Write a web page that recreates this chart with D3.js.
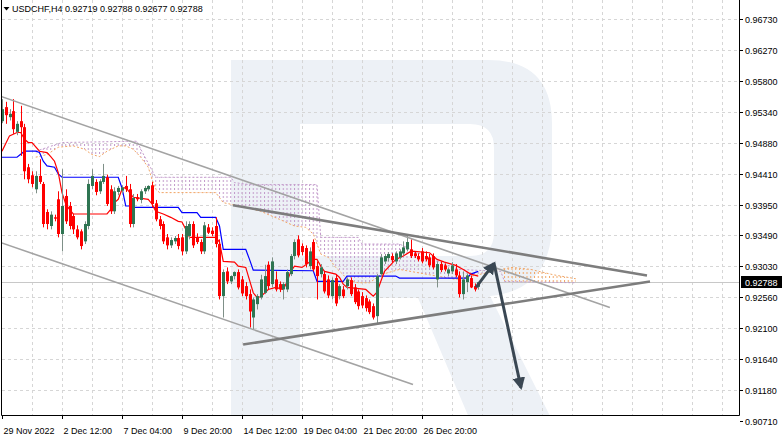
<!DOCTYPE html>
<html><head><meta charset="utf-8">
<script src="https://cdn.jsdelivr.net/npm/d3@7"></script>
<style>
body{margin:0;background:#fff;}
svg{display:block;}
text{font-family:"Liberation Sans",Arial,sans-serif;font-size:9px;fill:#000;}
</style>
</head><body>
<svg id="chart" width="782" height="443"></svg>
<script>
// ---------------- data ----------------
const symbol = "USDCHF,H4";
const headerValues = [0.92719, 0.92788, 0.92677, 0.92788];
const lastPrice = 0.92788;

const opens = [0.9520,0.9541,0.9526,0.9535,0.9504,0.9520,0.9511,0.9451,0.9439,0.9418,
0.9438,0.9426,0.9384,0.9363,0.9376,0.9403,0.9351,0.9408,0.9393,0.9378,
0.9358,0.9355,0.9340,0.9363,0.9423,0.9429,0.9415,0.9429,0.9436,0.9418,
0.9385,0.9414,0.9416,0.9423,0.9418,0.9366,0.9406,0.9402,0.9415,0.9418,
0.9424,0.9397,0.9373,0.9366,0.9346,0.9334,0.9340,0.9345,0.9346,0.9325,
0.9348,0.9366,0.9346,0.9339,0.9325,0.9361,0.9356,0.9363,0.9336,0.9258,
0.9295,0.9280,0.9288,0.9294,0.9283,0.9273,0.9261,0.9226,0.9246,0.9256,
0.9263,0.9305,0.9276,0.9283,0.9276,0.9268,0.9268,0.9291,0.9318,0.9343,
0.9333,0.9330,0.9303,0.9339,0.9303,0.9291,0.9291,0.9283,0.9258,0.9285,
0.9258,0.9268,0.9273,0.9282,0.9271,0.9265,0.9258,0.9255,0.9250,0.9243,
0.9228,0.9291,0.9310,0.9315,0.9318,0.9310,0.9316,0.9322,0.9328,0.9328,
0.9322,0.9318,0.9325,0.9318,0.9316,0.9318,0.9283,0.9306,0.9304,0.9292,
0.9295,0.9298,0.9289,0.9261,0.9279,0.9285,0.9273,0.92719];
const highs = [0.9553,0.9549,0.9538,0.9553,0.9520,0.9543,0.9516,0.9456,0.9445,0.9445,
0.9463,0.9429,0.9388,0.9385,0.9380,0.9415,0.9448,0.9418,0.9399,0.9381,
0.9364,0.9358,0.9370,0.9433,0.9448,0.9433,0.9433,0.9456,0.9440,0.9424,
0.9421,0.9423,0.9424,0.9438,0.9426,0.9411,0.9411,0.9418,0.9423,0.9424,
0.9429,0.9402,0.9378,0.9370,0.9351,0.9346,0.9348,0.9351,0.9351,0.9370,
0.9370,0.9370,0.9352,0.9343,0.9369,0.9366,0.9361,0.9376,0.9343,0.9298,
0.9301,0.9289,0.9295,0.9298,0.9288,0.9279,0.9268,0.9256,0.9261,0.9290,
0.9305,0.9310,0.9316,0.9295,0.9280,0.9279,0.9298,0.9321,0.9343,0.9349,
0.9337,0.9334,0.9331,0.9343,0.9310,0.9306,0.9295,0.9289,0.9286,0.9291,
0.9276,0.9273,0.9286,0.9286,0.9276,0.9268,0.9264,0.9259,0.9253,0.9247,
0.9291,0.9321,0.9321,0.9324,0.9322,0.9325,0.9328,0.9340,0.9351,0.9343,
0.9325,0.9322,0.9330,0.9325,0.9321,0.9322,0.9310,0.9310,0.9307,0.9301,
0.9309,0.9306,0.9295,0.9295,0.9292,0.9289,0.9277,0.92788];
const lows = [0.9517,0.9516,0.9521,0.9501,0.9499,0.9468,0.9433,0.9427,0.9421,0.9412,
0.9426,0.9361,0.9358,0.9358,0.9370,0.9346,0.9325,0.9366,0.9358,0.9351,
0.9343,0.9328,0.9336,0.9358,0.9418,0.9409,0.9411,0.9426,0.9393,0.9381,
0.9381,0.9409,0.9412,0.9414,0.9361,0.9361,0.9400,0.9397,0.9411,0.9415,
0.9391,0.9370,0.9358,0.9336,0.9328,0.9330,0.9336,0.9328,0.9319,0.9321,
0.9343,0.9330,0.9336,0.9321,0.9321,0.9351,0.9348,0.9331,0.9253,0.9226,
0.9276,0.9276,0.9283,0.9268,0.9258,0.9253,0.9211,0.9208,0.9238,0.9253,
0.9261,0.9268,0.9271,0.9265,0.9264,0.9253,0.9264,0.9288,0.9313,0.9316,
0.9319,0.9301,0.9298,0.9295,0.9253,0.9286,0.9262,0.9255,0.9253,0.9243,
0.9253,0.9255,0.9268,0.9258,0.9246,0.9238,0.9240,0.9235,0.9231,0.9223,
0.9216,0.9286,0.9306,0.9310,0.9308,0.9306,0.9313,0.9319,0.9325,0.9315,
0.9315,0.9310,0.9307,0.9310,0.9301,0.9298,0.9271,0.9294,0.9295,0.9288,
0.9291,0.9286,0.9256,0.9253,0.9264,0.9270,0.9265,0.92677];
const closes = [0.9538,0.9529,0.9531,0.9508,0.9516,0.9511,0.9445,0.9433,0.9426,0.9438,
0.9429,0.9366,0.9366,0.9380,0.9374,0.9351,0.9393,0.9370,0.9363,0.9358,
0.9346,0.9333,0.9366,0.9426,0.9438,0.9414,0.9430,0.9438,0.9396,0.9385,
0.9415,0.9420,0.9421,0.9418,0.9366,0.9405,0.9403,0.9415,0.9420,0.9423,
0.9396,0.9373,0.9363,0.9340,0.9334,0.9342,0.9345,0.9333,0.9325,0.9363,
0.9366,0.9334,0.9339,0.9325,0.9364,0.9353,0.9351,0.9336,0.9258,0.9294,
0.9280,0.9288,0.9294,0.9271,0.9262,0.9258,0.9235,0.9253,0.9258,0.9283,
0.9288,0.9273,0.9310,0.9268,0.9268,0.9276,0.9294,0.9318,0.9339,0.9319,
0.9324,0.9306,0.9325,0.9298,0.9288,0.9301,0.9265,0.9259,0.9282,0.9247,
0.9273,0.9258,0.9283,0.9261,0.9249,0.9243,0.9244,0.9240,0.9234,0.9226,
0.9288,0.9316,0.9318,0.9321,0.9312,0.9322,0.9325,0.9331,0.9339,0.9318,
0.9318,0.9313,0.9310,0.9313,0.9304,0.9301,0.9306,0.9297,0.9298,0.9298,
0.9304,0.9289,0.9261,0.9283,0.9289,0.9271,0.9268,0.92788];

// Ichimoku lines: [bar index, price]
const tenkan = [[0,0.9475],[2,0.9498],[4,0.9503],[5,0.9503],[6,0.9493],[7,0.9488],[8,0.9488],[10,0.9475],[12,0.9473],[13,0.9467],[14,0.9460],[15,0.9443],[16,0.9413],[17,0.9396],[18,0.9388],[19,0.9381],[28,0.9381],[29,0.9388],[30,0.9398],[31,0.9403],[32,0.9418],[33,0.9421],[35,0.9406],[39,0.9403],[40,0.9396],[41,0.9385],[43,0.9381],[45,0.9376],[47,0.9370],[48,0.9369],[49,0.9358],[50,0.9346],[57,0.9346],[58,0.9339],[59,0.9310],[62,0.9309],[63,0.9303],[65,0.9301],[67,0.9263],[68,0.9256],[69,0.9257],[71,0.9268],[73,0.9271],[75,0.9268],[76,0.9279],[77,0.9295],[78,0.9303],[80,0.9301],[83,0.9313],[84,0.9313],[85,0.9303],[86,0.9295],[89,0.9291],[90,0.9286],[91,0.9276],[92,0.9271],[97,0.9268],[99,0.9258],[100,0.9264],[101,0.9280],[102,0.9295],[103,0.9301],[105,0.9313],[107,0.9318],[109,0.9325],[110,0.9325],[114,0.9323],[116,0.9313],[118,0.9309],[121,0.9304],[123,0.9298],[125,0.9291],[127,0.9288]];
const kijun = [[0,0.9466],[4,0.9466],[6,0.9475],[9,0.9475],[10,0.9473],[11,0.9460],[12,0.9453],[14,0.9451],[15,0.9441],[16,0.9436],[31,0.9436],[32,0.9420],[33,0.9393],[34,0.9393],[35,0.9391],[47,0.9391],[48,0.9383],[52,0.9383],[53,0.9376],[57,0.9376],[58,0.9363],[59,0.9328],[65,0.9328],[66,0.9313],[67,0.9297],[83,0.9296],[84,0.9280],[91,0.9280],[92,0.9288],[105,0.9288],[106,0.9285],[124,0.9285],[125,0.9291],[127,0.9295]];
const spanA = [[9,0.9466],[12,0.9470],[15,0.9481],[19,0.9483],[22,0.9478],[24,0.9470],[26,0.9467],[28,0.9475],[31,0.9483],[33,0.9483],[35,0.9478],[37,0.9466],[39,0.9451],[40,0.9433],[41,0.9418],[42,0.9413],[57,0.9413],[59,0.9398],[64,0.9392],[69,0.9385],[74,0.9373],[78,0.9363],[81,0.9361],[83,0.9351],[85,0.9321],[87,0.9316],[89,0.9301],[91,0.9290],[92,0.9283],[95,0.9278],[98,0.9278],[101,0.9290],[106,0.9298],[114,0.9290],[121,0.9283],[127,0.9290],[133,0.9298],[136,0.9301],[141,0.9298],[147,0.9290],[153,0.9284]];
const spanB = [[9,0.9475],[16,0.9488],[36,0.9490],[37,0.9478],[41,0.9436],[61,0.9436],[62,0.9428],[66,0.9425],[84,0.9425],[85,0.9346],[95,0.9346],[96,0.9336],[106,0.9336],[112,0.9320],[118,0.9306],[122,0.9298],[133,0.9295],[134,0.9280],[153,0.9278]];

// axis labels
const priceTicks = [0.96730,0.96270,0.95800,0.95340,0.94880,0.94410,0.93950,0.93490,0.93030,0.92560,0.92100,0.91640,0.91180,0.90710];
const timeLabels = ["29 Nov 2022","2 Dec 12:00","7 Dec 04:00","9 Dec 20:00","14 Dec 12:00","19 Dec 04:00","21 Dec 20:00","26 Dec 20:00"];
const timeLabelBars = [0,16,32,48,64,80,96,112];

// drawn analysis objects: [bar index, price]
const channelLines = [
  [[-0.5,0.95575],[162.1,0.9241]],
  [[-0.5,0.93385],[109.6,0.91255]]
];
const triangleLines = [
  [[61.6,0.9394],[172.0,0.9289]],
  [[64.3,0.91855],[172.8,0.9280]]
];
const arrowUp = [[126.4,0.9271],[131.2,0.9307]];
const arrowDown = [[131.2,0.9307],[138.4,0.9121]];

// ---------------- drawing ----------------
const plot = {left:2, right:740, top:0, bottom:415};
const svg = d3.select("#chart");
const x = d3.scaleLinear().domain([0, (plot.right-plot.left)/3.75]).range([plot.left, plot.right]);
const y = d3.scaleLinear().domain([0.90710, 0.96730]).range([421, 19]);

const defs = svg.append("defs");
defs.append("clipPath").attr("id","plotClip").append("rect")
  .attr("x",plot.left).attr("y",plot.top).attr("width",plot.right-plot.left).attr("height",plot.bottom-plot.top);
function hatch(id,color){
  const p = defs.append("pattern").attr("id",id).attr("patternUnits","userSpaceOnUse")
    .attr("width",3.75).attr("height",4).attr("x",x(0)-0.5).attr("y",0);
  p.append("rect").attr("x",0).attr("y",0).attr("width",1).attr("height",2).attr("fill",color);
}
hatch("hatchPurple","#c39bcb");
hatch("hatchOrange","#f2a766");

const root = svg.append("g").attr("clip-path","url(#plotClip)");

// watermark logo
root.append("path")
  .attr("d","M231,60 H488 Q552,60 552,124 V222 Q552,290 490,296 L552,420 H470 L418,298 H300 V420 H231 Z M300,124 H470 Q494,124 494,148 V232 Q494,256 470,256 H300 Z")
  .attr("fill","#edf1f6").attr("fill-rule","evenodd");

// grid
const gridG = root.append("g").attr("stroke","#d6d6d6").attr("stroke-width",1).attr("stroke-dasharray","3,3");
priceTicks.forEach(p=>{
  const yy = Math.round(y(p))+0.5;
  gridG.append("line").attr("x1",plot.left).attr("x2",plot.right).attr("y1",yy).attr("y2",yy);
});
for(let b=8; x(b) < plot.right; b+=8){
  const xx = Math.round(x(b))+0.5;
  gridG.append("line").attr("x1",xx).attr("x2",xx).attr("y1",plot.top).attr("y2",plot.bottom);
}

// last price line
root.append("line").attr("x1",plot.left).attr("x2",plot.right)
  .attr("y1",Math.round(y(lastPrice))+0.5).attr("y2",Math.round(y(lastPrice))+0.5)
  .attr("stroke","#c8c8c8").attr("stroke-width",1);

// cloud
const toPt = d=>[x(d[0]), y(d[1])];
const aPts = spanA.map(toPt), bPts = spanB.map(toPt);
const poly = pts => "M" + pts.map(p=>p[0].toFixed(2)+","+p[1].toFixed(2)).join("L") + "Z";
const cloudPoly = poly(aPts.concat(bPts.slice().reverse()));
defs.append("clipPath").attr("id","aboveA").append("path")
  .attr("d", poly(aPts.concat([[aPts[aPts.length-1][0],0],[aPts[0][0],0]])));
defs.append("clipPath").attr("id","belowA").append("path")
  .attr("d", poly(aPts.concat([[aPts[aPts.length-1][0],plot.bottom],[aPts[0][0],plot.bottom]])));
root.append("g").attr("clip-path","url(#aboveA)").append("path").attr("d",cloudPoly).attr("fill","url(#hatchPurple)");
root.append("g").attr("clip-path","url(#belowA)").append("path").attr("d",cloudPoly).attr("fill","url(#hatchOrange)");

const lineGen = d3.line().x(d=>x(d[0])).y(d=>y(d[1]));
root.append("path").attr("d",lineGen(spanB)).attr("fill","none").attr("stroke","#c39bcb").attr("stroke-width",1).attr("stroke-dasharray","2,2");
root.append("path").attr("d",lineGen(spanA)).attr("fill","none").attr("stroke","#f2a766").attr("stroke-width",1).attr("stroke-dasharray","2,2");
root.append("path").attr("d",lineGen(kijun)).attr("fill","none").attr("stroke","#0000ff").attr("stroke-width",1.2);
root.append("path").attr("d",lineGen(tenkan)).attr("fill","none").attr("stroke","#ff0000").attr("stroke-width",1.2);

// candles
const bars = d3.range(opens.length).map(i=>({i,o:opens[i],h:highs[i],l:lows[i],c:closes[i]}));
const cg = root.append("g");
cg.selectAll("line.wick").data(bars).join("line")
  .attr("x1",d=>Math.round(x(d.i))+0.5).attr("x2",d=>Math.round(x(d.i))+0.5)
  .attr("y1",d=>y(d.h)).attr("y2",d=>y(d.l))
  .attr("stroke",d=>d.c>=d.o?"#7f9088":"#ff0000").attr("stroke-width",1);
cg.selectAll("rect.body").data(bars).join("rect")
  .attr("x",d=>Math.round(x(d.i))-1).attr("width",3)
  .attr("y",d=>y(Math.max(d.o,d.c)))
  .attr("height",d=>Math.max(1,Math.abs(y(d.o)-y(d.c))))
  .attr("fill",d=>d.c>=d.o?"#2f7552":"#ff0000");

// analysis lines
channelLines.forEach(l=>root.append("path").attr("d",lineGen(l)).attr("stroke","#a3a3a3").attr("stroke-width",1.6).attr("fill","none"));
triangleLines.forEach(l=>root.append("path").attr("d",lineGen(l)).attr("stroke","#7d7d7d").attr("stroke-width",2.6).attr("fill","none"));

defs.append("marker").attr("id","arrowHead").attr("viewBox","0 0 10 10").attr("refX",8).attr("refY",5)
  .attr("markerWidth",4.2).attr("markerHeight",4.2).attr("orient","auto").attr("markerUnits","strokeWidth")
  .append("path").attr("d","M0,0 L10,5 L0,10 Z").attr("fill","#3a4753");
[arrowUp, arrowDown].forEach(a=>root.append("path").attr("d",lineGen(a)).attr("stroke","#3a4753")
  .attr("stroke-width",3).attr("fill","none").attr("marker-end","url(#arrowHead)"));

// frame
const fr = svg.append("g").attr("stroke","#000").attr("stroke-width",1).attr("fill","none");
fr.append("path").attr("d",`M${plot.left-0.5},0 V${plot.bottom+0.5} H${plot.right-0.5} V0`);

// price axis
const ax = svg.append("g");
priceTicks.forEach(p=>{
  const yy = Math.round(y(p))+0.5;
  ax.append("line").attr("x1",plot.right).attr("x2",plot.right+3).attr("y1",yy).attr("y2",yy).attr("stroke","#000");
  ax.append("text").attr("x",plot.right+5).attr("y",yy+3.5).text(p.toFixed(5));
});
const ly = Math.round(y(lastPrice));
ax.append("rect").attr("x",plot.right+1).attr("y",ly-6).attr("width",41).attr("height",12).attr("fill","#000");
ax.append("text").attr("x",plot.right+5).attr("y",ly+3.5).style("fill","#fff").text(lastPrice.toFixed(5));

// time axis
timeLabelBars.forEach((b,k)=>{
  const xx = Math.round(x(b))+0.5;
  ax.append("line").attr("x1",xx).attr("x2",xx).attr("y1",plot.bottom).attr("y2",plot.bottom+4).attr("stroke","#000");
  ax.append("text").attr("x",xx+1).attr("y",434).text(timeLabels[k]);
});

// header
svg.append("path").attr("d","M3.5,7 L9.5,7 L6.5,10.5 Z").attr("fill","#000");
svg.append("text").attr("x",12).attr("y",12).text(symbol + " " + headerValues.map(v=>v.toFixed(5)).join(" "));
</script>
</body></html>
